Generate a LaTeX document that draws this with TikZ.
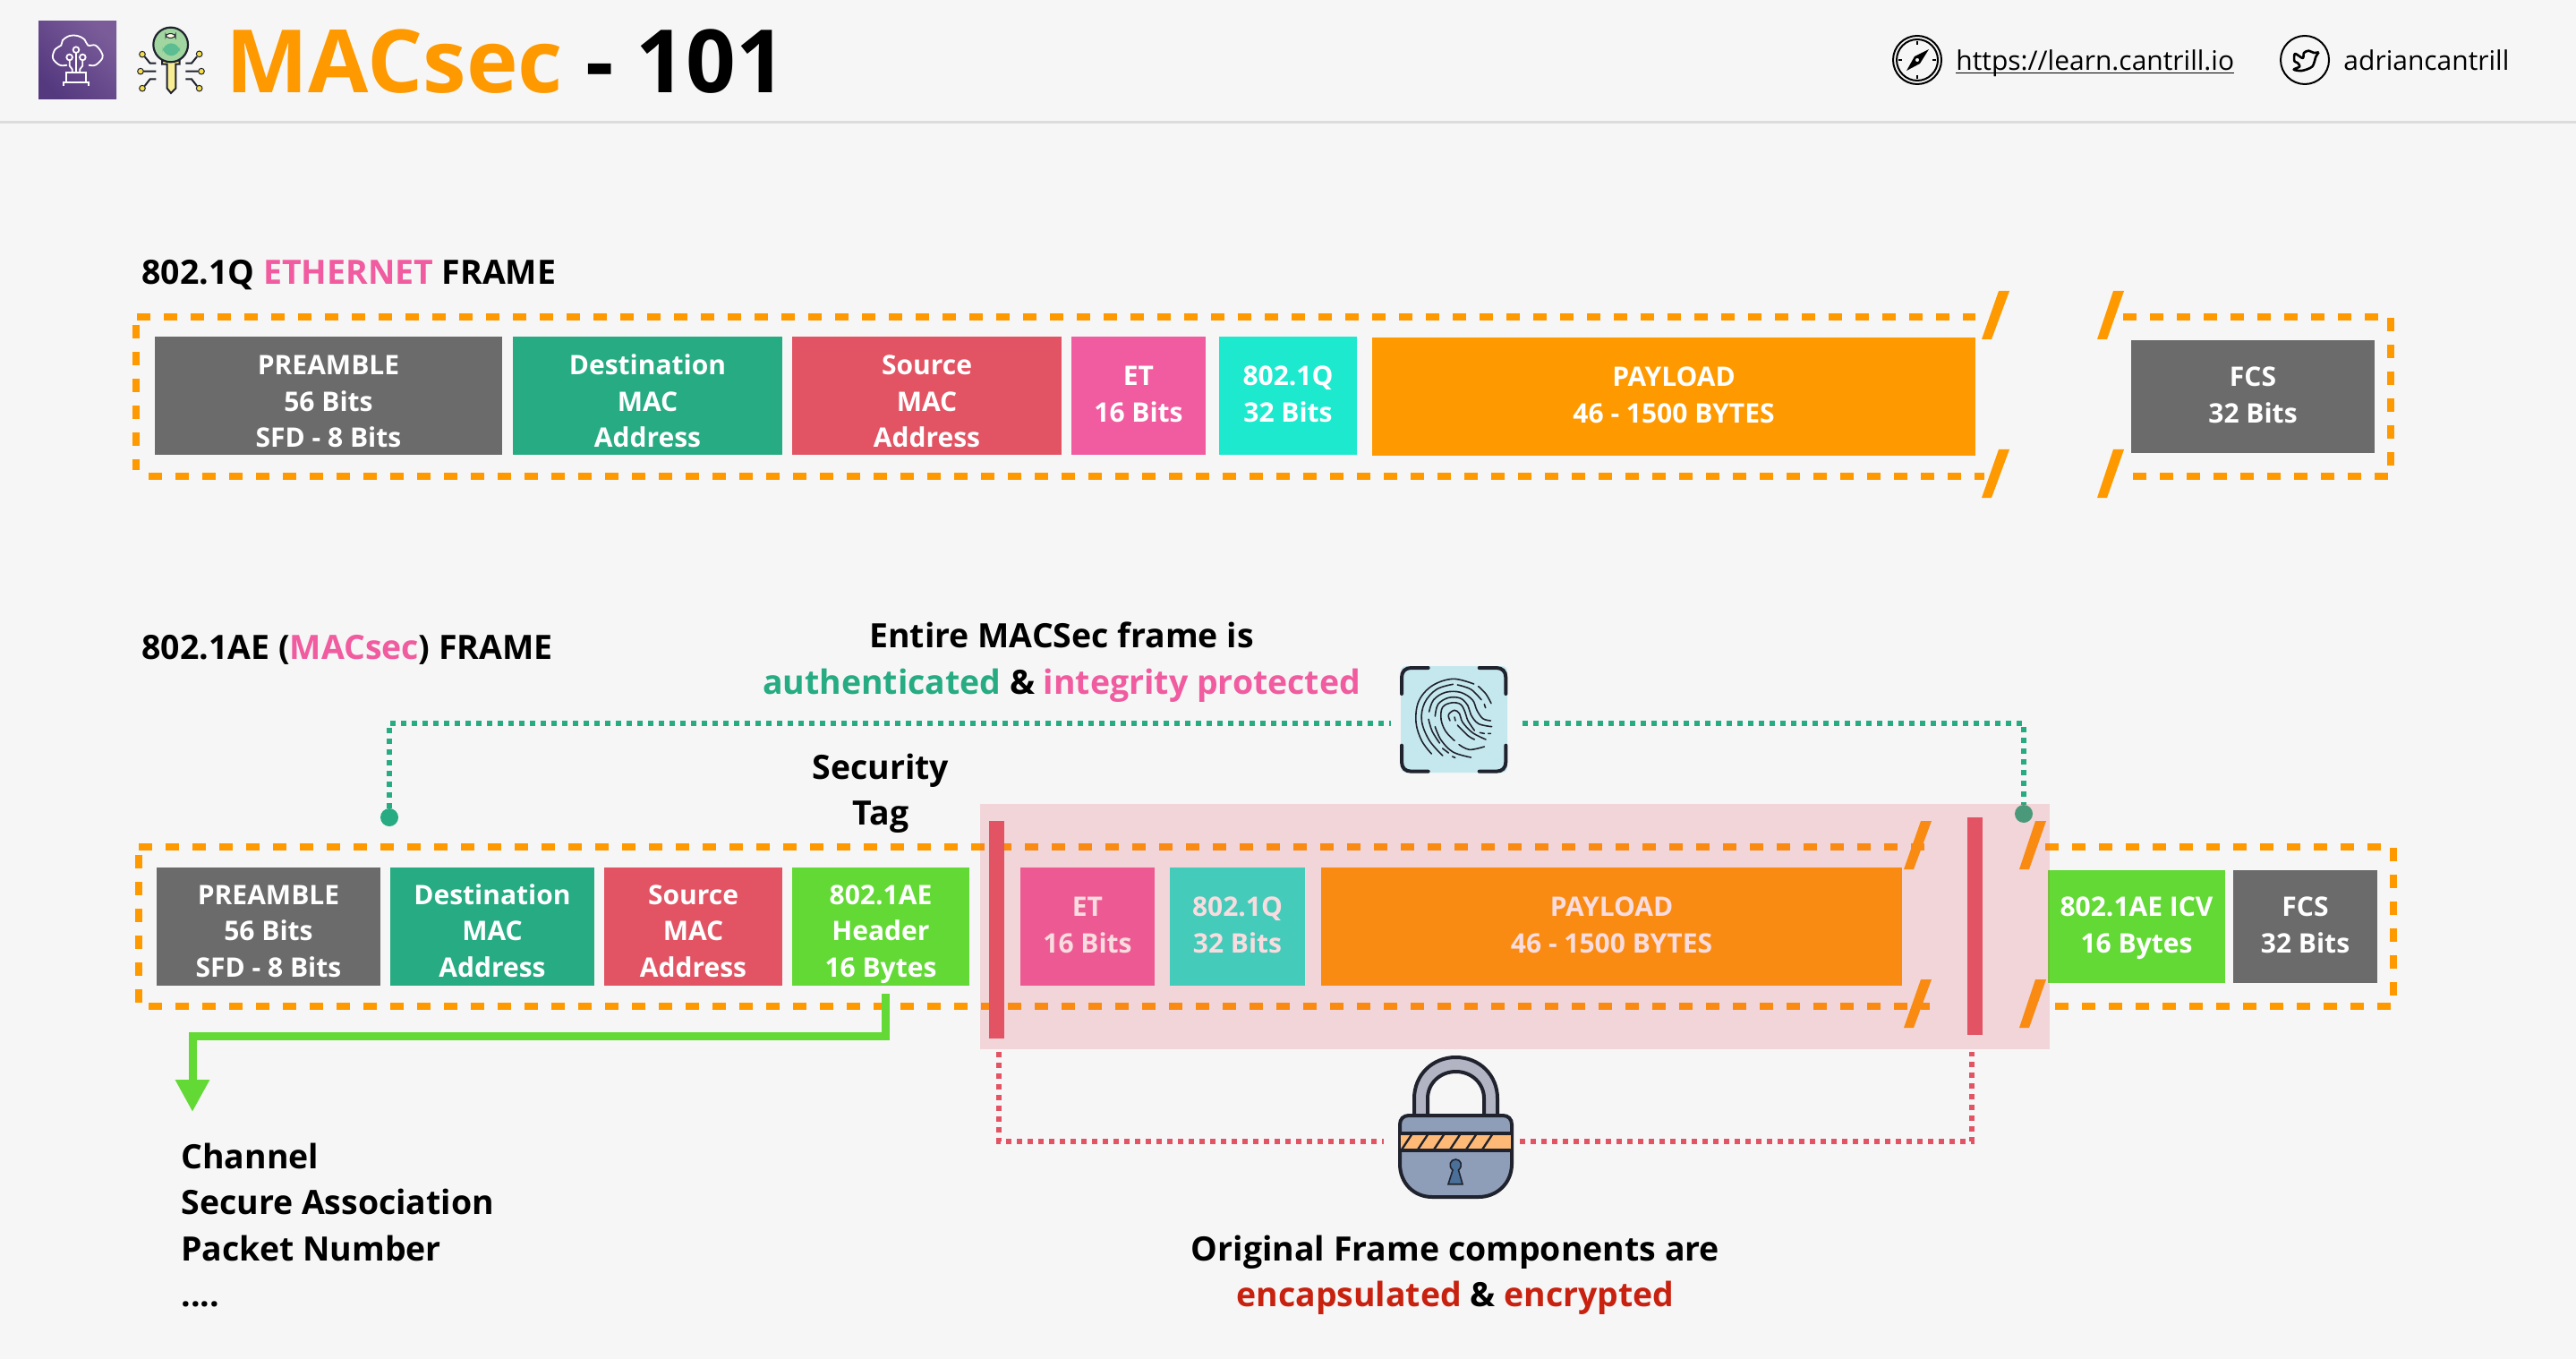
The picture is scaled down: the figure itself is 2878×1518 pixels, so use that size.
\documentclass[tikz,border=0pt]{standalone}
\usepackage{fontspec}
\setmainfont{Open Sans}
\usetikzlibrary{arrows.meta}
\definecolor{bgc}{HTML}{F6F6F6}
\definecolor{ln}{HTML}{DCDCDC}
\definecolor{org}{HTML}{FF9900}
\definecolor{gry}{HTML}{6B6B6B}
\definecolor{tea}{HTML}{26AB82}
\definecolor{red1}{HTML}{E25363}
\definecolor{pnk}{HTML}{F05C9F}
\definecolor{cya}{HTML}{1DE9CF}
\definecolor{grn}{HTML}{62D935}
\definecolor{crim}{HTML}{C8210F}
\definecolor{ink}{HTML}{20232E}
\definecolor{awsA}{HTML}{55397F}
\definecolor{awsB}{HTML}{7A5C99}
\definecolor{fpbg}{HTML}{C5E8EE}
\definecolor{keyg}{HTML}{A1D6A0}
\definecolor{keyi}{HTML}{5BBD91}
\definecolor{keyy}{HTML}{F8ED95}
\definecolor{keyd}{HTML}{F5DD4B}
\definecolor{lockA}{HTML}{B2B3C3}
\definecolor{lockB}{HTML}{8F9EB8}
\definecolor{lockC}{HTML}{FDB975}
\definecolor{lockD}{HTML}{4A6F99}
\newcommand\fldstrut{\rule[-3.75pt]{0pt}{16.5pt}}
\newcommand\tlA{\rule{0pt}{21pt}}
\newcommand\tlB{\rule{0pt}{19.5pt}}
\newcommand\fld[7]{\node[fld,fill=#6,minimum width={(#4-#2)*0.5pt},minimum height={(#5-#3)*0.5pt}] (#1) at ({(#2+#4)/2},{(#3+#5)/2}) {\fldstrut #7\fldstrut};}
\newcommand\ulink[1]{\setbox0\hbox{#1}\rlap{\rule[-1.7pt]{\wd0}{0.8pt}}\box0}
\newcommand\slashp[3]{\fill[slash] (#1,#2) -- ++(12,0) -- (#3+11,#2+54) -- (#3,#2+54) -- cycle;}
\tikzset{
 x=0.5pt,y=-0.5pt,
 fld/.style={rectangle,inner sep=0pt,align=center,text=white,font=\fontsize{15}{20.25}\selectfont\bfseries},
 lab/.style={inner sep=0pt,font=\fontsize{18.72}{25.5}\selectfont\bfseries},
 frm/.style={draw=org,line width=4pt,dash pattern=on 7.5pt off 7.5pt},
 slash/.style={fill=org,draw=none},
 gdot/.style={draw=tea,line width=2.8pt,dash pattern=on 3pt off 3pt},
 rdot/.style={draw=red1,line width=2.8pt,dash pattern=on 3pt off 3pt},
 bar/.style={rectangle,fill=red1,inner sep=0pt},
 fpl/.style={line width=0.8pt,draw=ink,line cap=round},
 dotn/.style={circle,fill=tea,inner sep=0pt,minimum size=10pt},
}
\begin{document}
\begin{tikzpicture}
\useasboundingbox[fill=bgc] (0,0) rectangle (2878,1518);
\fill[ln] (0,135) rectangle (2878,138);

% AWS icon
\shade[bottom color=awsA,top color=awsB,shading angle=-45] (43,24) rectangle (130,111);
\begin{scope}[shift={(35,20)},x=0.16667pt,y=-0.16667pt,draw=white,line width=0.9pt]
\draw plot[smooth,tension=.6] coordinates {(120,158)(95,158)(72,135)(80,105)(100,92)(105,75)(128,60)(155,60)(178,72)(190,92)(215,92)(235,115)(238,135)(215,158)(192,158)};
\draw (150,107) circle[radius=10] (128,132) circle[radius=10] (172,132) circle[radius=10];
\draw (150,118) -- (150,180) (128,143) -- (128,160) -- (137,172) -- (137,180) (172,143) -- (172,160) -- (163,172) -- (163,180);
\draw (118,213) -- (118,183) -- (183,183) -- (183,213) (108,228) -- (108,215) -- (193,215) -- (193,228);
\end{scope}

% Key icon
\begin{scope}[shift={(35,20)},x=0.16667pt,y=-0.16667pt]
\foreach \a/\b in {372/122,366/179,372/236,563/121,570/179,563/236}
  \filldraw[fill=keyd,draw=ink,line width=0.5pt] (\a,\b) circle[radius=10];
\draw[ink,line width=1pt] (380,130) -- (398,152) -- (418,152) (376,179) -- (418,179) (380,228) -- (398,205) -- (418,205)
 (555,130) -- (537,152) -- (517,152) (560,179) -- (517,179) (555,228) -- (537,205) -- (517,205);
\filldraw[fill=keyy,draw=ink,line width=1pt] (438,143) -- (497,143) -- (497,155) -- (484,155) -- (484,236) -- (468,252) -- (455,236) -- (455,155) -- (438,155) -- cycle;
\filldraw[fill=keyg,draw=ink,line width=1.1pt] (467,90) circle[radius=58];
\fill[fill=keyi,rounded corners=5pt] (440,85) rectangle (498,127);
\filldraw[fill=white!90!yellow,draw=ink,line width=0.5pt,rounded corners=2pt] (450,53) rectangle (483,67);
\end{scope}

% title
\node[anchor=base west,inner sep=0pt,font=\fontsize{48.8}{60}\selectfont\bfseries] (title) at (252.5,104) {\textcolor{org}{MACsec} \textcolor{black}{- 101}};

% link icons
\draw[black,line width=1pt] (2142,67) circle[radius=27] (2142,67) circle[radius=23];
\draw[black,line width=.7pt] (2142,46) -- (2142,50) (2142,84) -- (2142,88) (2121,67) -- (2125,67) (2159,67) -- (2163,67);
\fill[black] (2155,55) -- (2145,71) -- (2130,79) -- (2139,63) -- cycle;
\fill[bgc] (2142,67) circle[radius=2];
\draw[black,line width=1pt] (2575,67) circle[radius=27];
\begin{scope}[shift={(2110,35)},x=0.16667pt,y=-0.16667pt]
\draw[black,line width=1.3pt,line join=round] plot[smooth,tension=.5] coordinates {(1442,70)(1425,72)(1408,65)(1392,72)(1388,90)(1362,75)(1360,100)(1370,105)(1378,118)(1358,128)(1385,132)(1420,118)(1432,85)(1442,70)};
\end{scope}
\node[anchor=base west,inner sep=0pt,font=\fontsize{15}{20}\selectfont] (link) at (2185,79) {\ulink{https://learn.cantrill.io}};
\node[anchor=base west,inner sep=0pt,font=\fontsize{15}{20}\selectfont] (handle) at (2618,79) {adriancantrill};

% frame 1
\node[lab,anchor=base west] (t1) at (158,318) {802.1Q \textcolor{pnk}{ETHERNET} FRAME};
\fld{a1}{173}{376}{561}{508}{gry}{\tlA PREAMBLE\\56 Bits\\SFD - 8 Bits}
\fld{a2}{573}{376}{874}{508}{tea}{\tlA Destination\\MAC\\Address}
\fld{a3}{885}{376}{1186}{508}{red1}{\tlA Source\\MAC\\Address}
\fld{a4}{1197}{376}{1347}{508}{pnk}{ET\\16 Bits}
\fld{a5}{1362}{376}{1516}{508}{cya}{802.1Q\\32 Bits}
\fld{a6}{1533}{377}{2207}{509}{org}{PAYLOAD\\46 - 1500 BYTES}
\fld{a7}{2381}{380}{2653}{506}{gry}{FCS\\32 Bits}
\draw[frm] (153,354) -- (2207,354);
\draw[frm] (2372,354) -- (2657,354);
\draw[frm] (2671,355) -- (2671,520);
\draw[frm] (2668,532) -- (2383,532);
\draw[frm] (166,532) -- (2217,532);
\draw[frm] (152,363) -- (152,525);
\slashp{2233}{325}{2214}
\slashp{2233}{502}{2214}
\slashp{2361}{325}{2343}
\slashp{2361}{502}{2343}

% frame 2 heading
\node[lab,anchor=base west] (t2) at (158,736) {802.1AE (\textcolor{pnk}{MACsec}) FRAME};
\node[lab,anchor=base] (q1) at (1186,723) {Entire MACSec frame is};
\node[lab,anchor=base] (q2) at (1186,775) {\textcolor{tea}{authenticated} \& \textcolor{pnk}{integrity protected}};
\node[lab,anchor=base] (q3) at (984,870) {Security};
\node[lab,anchor=base] (q4) at (984,921) {Tag};

% frame 2 boxes
\fld{b1}{175}{969}{425}{1101}{gry}{\tlB PREAMBLE\\56 Bits\\SFD - 8 Bits}
\fld{b2}{436}{969}{664}{1101}{tea}{\tlB Destination\\MAC\\Address}
\fld{b3}{675}{969}{874}{1101}{red1}{\tlB Source\\MAC\\Address}
\fld{b4}{885}{969}{1083}{1101}{grn}{\tlB 802.1AE\\Header\\16 Bytes}
\fld{b5}{1140}{969}{1290}{1101}{pnk}{ET\\16 Bits}
\fld{b6}{1307}{969}{1458}{1101}{cya}{802.1Q\\32 Bits}
\fld{b7}{1476}{969}{2125}{1101}{org}{PAYLOAD\\46 - 1500 BYTES}
\fld{b8}{2288}{972}{2486}{1098}{grn}{802.1AE ICV\\16 Bytes}
\fld{b9}{2495}{972}{2656}{1098}{gry}{FCS\\32 Bits}
\draw[frm] (155,946) -- (2150,946);
\draw[frm] (2285,946) -- (2660,946);
\draw[frm] (2674,947) -- (2674,1112);
\draw[frm] (2671,1124) -- (2296,1124);
\draw[frm] (166,1124) -- (2156,1124);
\draw[frm] (155,955) -- (155,1120);
\slashp{2146}{917}{2127}
\slashp{2146}{1094}{2127}
\slashp{2274}{917}{2256}
\slashp{2274}{1094}{2256}

% green dots and fingerprint
\node[dotn] (dotL) at (435,913) {};
\node[dotn] (dotR) at (2261,909) {};
\node[rectangle,fill=fpbg,rounded corners=3pt,inner sep=0pt,minimum width=59.5pt,minimum height=59.5pt] (fp) at (1624.5,803.5) {};
\coordinate (fpL) at (1554,808);
\coordinate (fpR) at (1701,808);
\draw[gdot] (dotL.north) |- (fpL);
\draw[gdot] (fpR) -| (dotR.north);
\begin{scope}[shift={(1560,740)},x=0.16667pt,y=-0.16667pt,smooth]
\draw[ink,line width=2pt,line cap=round] (107,18) -- (50,18) .. controls (30,18) and (18,30) .. (18,50) -- (18,105)
 (278,18) -- (335,18) .. controls (355,18) and (367,30) .. (367,50) -- (367,105)
 (107,365) -- (50,365) .. controls (30,365) and (18,353) .. (18,333) -- (18,278)
 (278,365) -- (335,365) .. controls (355,365) and (367,353) .. (367,333) -- (367,278);
\draw[fpl] plot[tension=.6] coordinates {(118,306)(85,262)(66,200)(75,130)(120,78)(190,55)(260,72)};
\draw[fpl] plot[tension=.6] coordinates {(155,312)(110,260)(85,195)(95,135)(135,90)(190,73)};
\draw[fpl] plot[tension=.6] coordinates {(205,75)(250,90)(285,125)};
\draw[fpl] plot[tension=.6] coordinates {(110,165)(125,125)(165,100)(215,100)(255,125)(270,160)(290,188)(316,195)};
\draw[fpl] plot[tension=.6] coordinates {(108,190)(120,230)(145,270)};
\draw[fpl] plot[tension=.6] coordinates {(130,180)(140,140)(175,118)(215,120)(240,145)(250,175)(275,205)(320,215)};
\draw[fpl] plot[tension=.6] coordinates {(195,262)(165,230)(150,190)(155,150)(185,135)(215,140)(230,165)(240,195)(262,228)};
\draw[fpl] plot[tension=.6] coordinates {(130,215)(150,260)(190,300)(250,318)};
\draw[fpl] plot[tension=.6] coordinates {(180,195)(175,175)(195,160)(212,172)(222,200)(255,235)(300,258)};
\draw[fpl] plot[tension=.6] coordinates {(205,210)(240,245)(262,258)};
\draw[fpl] plot[tension=.6] coordinates {(210,275)(245,292)(295,282)};
\draw[fpl] (155,288) -- (175,303) (188,315) -- (197,319) (280,235) -- (295,238) (308,238) -- (316,238) (195,183) -- (198,195) (295,140) -- (299,152);
\draw[fpl] plot[tension=.6] coordinates {(275,80)(300,105)(318,137)};
\end{scope}

% pink overlay
\fill[red1,opacity=0.2] (1094.5,898) rectangle (2290,1172);
\node[bar,minimum width=8.5pt,minimum height=121.5pt] (barL) at (1113.5,1038.5) {};
\node[bar,minimum width=8.5pt,minimum height=121.5pt] (barR) at (2206.5,1034.5) {};

% green arrow
\coordinate (hdrOut) at (989,1110);
\coordinate (arrEnd) at (215,1242);
\draw[grn,line width=4.5pt,-{Triangle[length=18pt,width=18pt,fill=grn]}] (hdrOut) -- (989,1157) -| (arrEnd);

% lock connectors
\coordinate (redL) at (1116,1175);
\coordinate (redR) at (2203,1175);
\coordinate (lockL) at (1546,1275);
\coordinate (lockR) at (1698,1275);
\draw[rdot] (redL) |- (lockL);
\draw[rdot] (lockR) -| (redR);

% lock
\begin{scope}[line width=2pt,draw=ink]
\filldraw[fill=lockA] (1580,1246) -- (1580,1227) .. controls (1580,1201) and (1600,1181) .. (1626.5,1181) .. controls (1653,1181) and (1673,1201) .. (1673,1227) -- (1673,1246) -- (1658,1246) -- (1658,1227) .. controls (1658,1210) and (1644,1197) .. (1626.5,1197) .. controls (1609,1197) and (1595,1210) .. (1595,1227) -- (1595,1246) -- cycle;
\filldraw[fill=lockB] (1574,1246) -- (1679,1246) .. controls (1685,1246) and (1689,1250) .. (1689,1256) -- (1689,1300) .. controls (1689,1322) and (1672,1337) .. (1652,1337) -- (1600,1337) .. controls (1580,1337) and (1564,1322) .. (1564,1300) -- (1564,1256) .. controls (1564,1250) and (1568,1246) .. (1574,1246) -- cycle;
\fill[fill=lockC] (1565,1266) rectangle (1688,1284);
\draw (1564,1266) -- (1689,1266) (1564,1284.5) -- (1689,1284.5);
\foreach \s in {0,18,...,90} \draw[line width=1.2pt] ({1578+\s},1266) -- ({1566+\s},1284);
\filldraw[line width=.8pt,fill=lockD] (1623,1307) -- (1618,1322.7) -- (1634,1322.7) -- (1629.5,1307) .. controls (1635,1302) and (1632,1295) .. (1626.3,1295) .. controls (1620.5,1295) and (1617.5,1302) .. (1623,1307) -- cycle;
\end{scope}

% bottom texts
\node[lab,anchor=base west] (c1) at (202,1305) {Channel};
\node[lab,anchor=base west] (c2) at (202,1356) {Secure Association};
\node[lab,anchor=base west] (c3) at (202,1408) {Packet Number};
\node[lab,anchor=base west] (c4) at (202,1459) {....};
\node[lab,anchor=base] (o1) at (1626,1408) {Original Frame components are};
\node[lab,anchor=base] (o2) at (1626,1459) {\textcolor{crim}{encapsulated} \& \textcolor{crim}{encrypted}};
\end{tikzpicture}
\end{document}
